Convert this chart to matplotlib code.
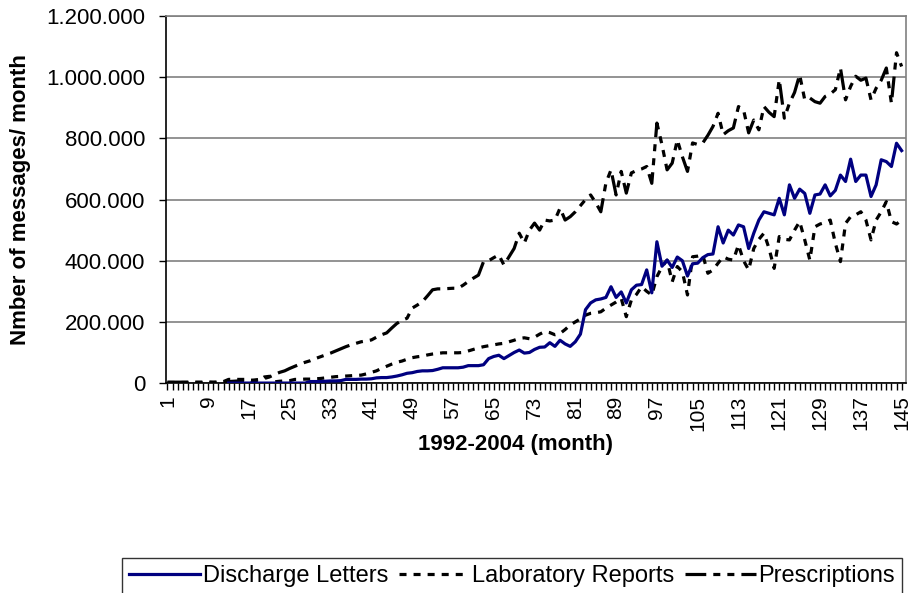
import matplotlib
matplotlib.use("Agg")
import matplotlib.pyplot as plt
import numpy as np
from matplotlib.ticker import FuncFormatter, FixedLocator

plt.rcParams['font.family'] = ['Liberation Sans', 'DejaVu Sans']

months = np.arange(1, 146)

# values in thousands of messages per month
# discharge letters start at month 13
discharge = [0, 0, 0, 0, 0, 0, 0, 0, 0, 0, 0, 0, 0, 0, 0, 0,  # 13-28
             5, 5, 5, 6, 7, 7, 8, 12, 12, 12, 13, 13, 14, 17, 18, 18, 20, 23, 27, 32,  # 29-48
             34, 38, 40, 40, 41, 45, 50, 50, 50, 50, 52, 57, 57, 57, 60, 80, 87, 91, 80, 90,  # 49-68
             100, 108, 98, 100, 110, 117, 118, 132, 120, 140, 128, 120, 135, 160, 240, 262, 272, 275, 280, 315,  # 69-88
             280, 298, 262, 305, 320, 322, 370, 295, 462, 382, 402, 378, 412, 400, 350, 390, 392, 410, 420, 422,  # 89-108
             511, 458, 500, 484, 517, 511, 440, 490, 533, 560, 555, 550, 604, 550, 648, 604, 634, 620, 555, 615,  # 109-128
             618, 648, 612, 630, 680, 659, 732, 659, 680, 680, 610, 648, 730, 724, 708, 784, 760]  # 129-145

lab_reports = [2, 2, 2, 2, 2, 2, 2, 2, 3, 2, 3, 5, 12, 12, 12, 12, 12, 4, 10, 20,  # 1-20
               22, 4, 6, 7, 8, 12, 12, 13, 13, 14, 15, 17, 19, 21, 22, 23, 24, 25, 26, 30,  # 21-40
               35, 40, 48, 55, 62, 68, 72, 78, 83, 86, 88, 92, 95, 97, 99, 99, 99, 99, 100, 105,  # 41-60
               110, 115, 119, 122, 125, 128, 130, 135, 140, 146, 148, 145, 150, 160, 168, 165, 158, 162, 175, 190,  # 61-80
               200, 210, 222, 228, 230, 233, 245, 255, 265, 277, 217, 272, 290, 315, 300, 288, 348, 380, 402, 331,  # 81-100
               381, 364, 288, 413, 415, 419, 359, 370, 392, 413, 405, 402, 452, 400, 370, 440, 470, 490, 440, 375,  # 101-120
               479, 470, 468, 500, 528, 468, 402, 511, 520, 525, 533, 457, 397, 522, 544, 550, 560, 533, 468, 533,  # 121-140
               560, 593, 528, 520, 533]  # 141-145

prescriptions = [3, 3, 3, 3, 3, 3, 3, 3, 3, 3, 3, 3, 5, 6, 7, 8, 9, 10, 12, 15,  # 1-20
                 20, 28, 35, 40, 48, 55, 62, 68, 73, 80, 86, 92, 98, 105, 112, 119, 125, 130, 135, 138,  # 21-40
                 141, 150, 158, 164, 180, 195, 205, 212, 245, 255, 266, 285, 305, 308, 308, 309, 310, 310, 320, 332,  # 41-60
                 343, 353, 397, 400, 410, 419, 386, 413, 440, 490, 458, 500, 523, 500, 533, 530, 533, 572, 533, 544,  # 61-80
                 560, 580, 600, 615, 590, 560, 654, 697, 615, 692, 621, 687, 695, 700, 708, 653, 850, 779, 697, 719,  # 81-100
                 795, 740, 692, 785, 780, 785, 810, 839, 882, 812, 825, 834, 904, 893, 818, 860, 828, 904, 885, 871,  # 101-120
                 992, 866, 915, 950, 1008, 926, 932, 920, 915, 937, 945, 959, 1030, 926, 970, 1003, 990, 997, 926, 964,  # 121-140
                 990, 1030, 915, 1080, 1035]  # 141-145

fig = plt.figure(figsize=(9.13, 5.93), dpi=100)
ax = fig.add_axes([0.182, 0.354, 0.81, 0.619])

ax.plot(months[12:], np.array(discharge) * 1000, color='#000080', lw=2.3,
        label='Discharge Letters', zorder=4)
ax.plot(months, np.array(lab_reports) * 1000, color='black', lw=2.3,
        dashes=(2.2, 2.2), label='Laboratory Reports', zorder=3)
ax.plot(months, np.array(prescriptions) * 1000, color='black', lw=2.3,
        dashes=(6.5, 2.2, 2.2, 2.2, 2.2, 2.2), label='Prescriptions', zorder=3)

ax.set_xlim(0.75, 145.8)
ax.set_ylim(0, 1200000)
ax.set_yticks(np.arange(0, 1200001, 200000))
ax.yaxis.set_major_formatter(FuncFormatter(lambda v, p: '{:,.0f}'.format(v).replace(',', '.')))
ax.grid(axis='y', color='#808080', lw=1.2)
ax.set_axisbelow(True)

ax.xaxis.set_major_locator(FixedLocator(np.arange(1, 146, 8)))
ax.xaxis.set_minor_locator(FixedLocator(months))
ax.tick_params(axis='x', which='both', direction='out', length=5, width=1, color='black')
ax.tick_params(axis='x', which='major', labelsize=15, labelrotation=90, pad=4)
ax.tick_params(axis='y', direction='out', length=5, width=1, labelsize=16, pad=10)

for s in ['top', 'right']:
    ax.spines[s].set_color('#808080')
    ax.spines[s].set_linewidth(1.2)
for s in ['left', 'bottom']:
    ax.spines[s].set_color('black')
    ax.spines[s].set_linewidth(1.2)

ax.set_ylabel('Nmber of messages/ month', fontsize=16, fontweight='bold', va='center')
ax.yaxis.set_label_coords(-0.197, 0.5)
ax.set_xlabel('1992-2004 (month)', fontsize=16, fontweight='bold', va='center')
ax.xaxis.set_label_coords(0.473, -0.166)

leg = fig.legend(loc='upper left', bbox_to_anchor=(0.134, 0.059), ncol=3, fontsize=17,
                 frameon=True, fancybox=False, edgecolor='black', handlelength=3.0,
                 handletextpad=0.1, columnspacing=0.45, borderpad=0.3, borderaxespad=0)
leg.get_frame().set_linewidth(1.0)

fig.savefig('out.png', dpi=100)
